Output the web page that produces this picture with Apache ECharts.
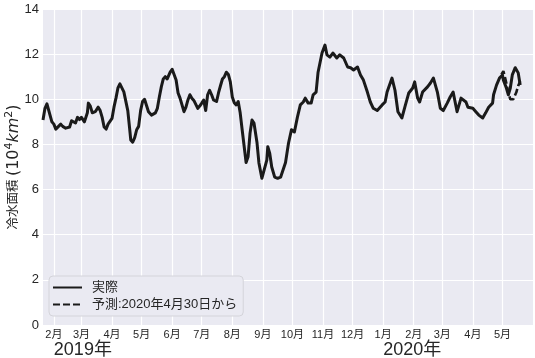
<!DOCTYPE html>
<html>
<head>
<meta charset="utf-8">
<script src="https://cdn.jsdelivr.net/npm/echarts@6/dist/echarts.min.js"></script>
<style>
  html, body { margin: 0; padding: 0; background: #ffffff; }
  #chart { width: 535px; height: 358px; }
</style>
</head>
<body>
<div id="chart"></div>
<script>
// ---- data ----
const actualDates = [
  '2019-01-21','2019-01-23','2019-01-25','2019-01-27','2019-01-30','2019-02-01','2019-02-03','2019-02-05','2019-02-08','2019-02-10',
  '2019-02-13','2019-02-17','2019-02-19','2019-02-21','2019-02-23','2019-02-25','2019-02-27','2019-03-01','2019-03-03','2019-03-04',
  '2019-03-07','2019-03-08','2019-03-10','2019-03-12','2019-03-15','2019-03-18','2019-03-20','2019-03-22','2019-03-24','2019-03-26',
  '2019-03-28','2019-03-30','2019-04-01','2019-04-03','2019-04-05','2019-04-07','2019-04-09','2019-04-11','2019-04-13','2019-04-15',
  '2019-04-17','2019-04-19','2019-04-20','2019-04-22','2019-04-24','2019-04-26','2019-04-28','2019-04-30','2019-05-02','2019-05-04',
  '2019-05-06','2019-05-08','2019-05-11','2019-05-13','2019-05-15','2019-05-17','2019-05-19','2019-05-21','2019-05-23','2019-05-25',
  '2019-05-27','2019-05-28','2019-05-30','2019-06-01','2019-06-03','2019-06-05','2019-06-07','2019-06-09','2019-06-11','2019-06-13',
  '2019-06-15','2019-06-17','2019-06-19','2019-06-21','2019-06-23','2019-06-25','2019-06-27','2019-06-29','2019-07-01','2019-07-03',
  '2019-07-05','2019-07-07','2019-07-09','2019-07-11','2019-07-13','2019-07-16','2019-07-18','2019-07-20','2019-07-22','2019-07-24',
  '2019-07-26','2019-07-28','2019-07-30','2019-08-01','2019-08-03','2019-08-05','2019-08-07','2019-08-09','2019-08-11','2019-08-15',
  '2019-08-17','2019-08-19','2019-08-21','2019-08-23','2019-08-26','2019-08-28','2019-08-31','2019-09-02','2019-09-05','2019-09-06',
  '2019-09-08','2019-09-10','2019-09-13','2019-09-16','2019-09-19','2019-09-21','2019-09-24','2019-09-27','2019-09-30','2019-10-03',
  '2019-10-06','2019-10-09','2019-10-12','2019-10-14','2019-10-17','2019-10-20','2019-10-22','2019-10-25','2019-10-27','2019-10-31',
  '2019-11-03','2019-11-05','2019-11-08','2019-11-11','2019-11-15','2019-11-18','2019-11-22','2019-11-26','2019-11-29','2019-12-02',
  '2019-12-06','2019-12-09','2019-12-12','2019-12-16','2019-12-19','2019-12-22','2019-12-26','2019-12-31','2020-01-03','2020-01-05',
  '2020-01-10','2020-01-13','2020-01-16','2020-01-20','2020-01-23','2020-01-27','2020-01-31','2020-02-02','2020-02-05','2020-02-07',
  '2020-02-10','2020-02-12','2020-02-15','2020-02-18','2020-02-21','2020-02-25','2020-02-28','2020-03-02','2020-03-06','2020-03-09',
  '2020-03-12','2020-03-14','2020-03-16','2020-03-20','2020-03-22','2020-03-25','2020-03-27','2020-04-01','2020-04-04','2020-04-07',
  '2020-04-11','2020-04-14','2020-04-17','2020-04-21','2020-04-22','2020-04-25','2020-04-28','2020-05-01','2020-05-02','2020-05-05',
  '2020-05-07','2020-05-09','2020-05-11','2020-05-14','2020-05-17','2020-05-19'
];
const actualValues = [
  9.08,9.6,9.8,9.8,9.0,8.9,8.68,8.75,8.9,8.8,
  8.72,8.77,9.05,9.1,8.95,9.2,9.1,9.2,9.2,9.0,
  9.4,9.83,9.7,9.4,9.45,9.65,9.5,9.2,8.77,8.68,
  8.9,8.95,9.15,9.65,10.05,10.5,10.68,10.6,10.33,10.3,
  9.5,8.65,8.2,8.1,8.3,8.65,8.8,9.5,9.9,10.0,
  9.97,9.45,9.3,9.26,9.4,9.6,10.1,10.55,10.9,11.0,
  10.9,10.85,11.2,11.33,11.3,10.85,10.28,10.05,9.75,9.45,
  9.65,9.97,10.2,10.05,9.95,9.9,9.6,9.7,9.83,9.97,
  9.5,10.2,10.4,10.2,9.97,9.9,10.28,10.6,10.9,11.0,
  11.2,11.1,10.77,10.1,9.85,9.75,9.9,9.4,8.65,7.2,
  7.45,8.5,9.08,8.95,8.1,7.18,6.5,6.55,7.3,7.9,
  7.6,7.0,6.55,6.5,6.55,6.5,7.2,8.05,8.65,8.55,
  9.2,9.75,9.88,10.05,9.83,9.83,10.2,10.32,11.2,12.05,
  12.4,11.97,11.87,12.05,11.83,11.97,11.83,11.43,11.4,11.3,
  11.43,11.08,10.85,10.32,9.88,9.6,9.5,9.75,9.88,10.32,
  10.94,10.4,9.45,9.17,9.65,10.28,10.5,10.77,10.05,9.88,
  10.32,10.28,10.55,10.72,10.94,10.32,9.6,9.5,9.83,10.1,
  10.32,9.88,9.45,10.05,10.1,9.88,9.65,9.6,9.45,9.3,
  9.17,9.4,9.65,9.83,10.2,10.63,10.94,11.08,10.85,10.5,
  10.2,10.5,11.08,11.4,11.17,10.63
];
const forecastDates = ['2020-04-30','2020-05-02','2020-05-04','2020-05-07','2020-05-09','2020-05-12','2020-05-15','2020-05-17','2020-05-19'];
const forecastValues = [11.1,11.25,10.9,10.3,10.0,10.0,10.3,10.6,10.8];

const monthTicks = ['2019-02-01','2019-03-01','2019-04-01','2019-05-01','2019-06-01','2019-07-01','2019-08-01','2019-09-01',
  '2019-10-01','2019-11-01','2019-12-01','2020-01-01','2020-02-01','2020-03-01','2020-04-01','2020-05-01'];
const monthLabels = ['2月','3月','4月','5月','6月','7月','8月','9月','10月','11月','12月','1月','2月','3月','4月','5月'];
const yearTicks = ['2019-02-01','2020-01-01'];
const yearLabels = ['2019年','2020年'];
const seriesNames = ['実際','予測:2020年4月30日から'];

// ---- build ----
const toTs = s => { const p = s.split('-').map(Number); return Date.UTC(p[0], p[1]-1, p[2]); };
const zip = (d, v) => d.map((x, i) => [toTs(x), v[i]]);
const monthTs = monthTicks.map(toTs);
const yearTs = yearTicks.map(toTs);
const xMin = toTs('2019-01-21');
const xMax = toTs('2020-06-01');
const labelFor = (ticks, labels) => v => {
  let best = -1, bd = Infinity;
  ticks.forEach((t, i) => { const d = Math.abs(t - v); if (d < bd) { bd = d; best = i; } });
  return bd < 86400000 ? labels[best] : '';
};

const FONT = "'Liberation Sans', 'Noto Sans CJK JP', sans-serif";
const MATH = "'DejaVu Sans', sans-serif";
const TXT = '#262626';
const LINE = '#1a1a1a';

const chart = echarts.init(document.getElementById('chart'), null, { renderer: 'canvas' });
chart.setOption({
  animation: false,
  backgroundColor: '#ffffff',
  textStyle: { fontFamily: FONT },
  grid: {
    left: 43, right: 2, top: 9, bottom: 33,
    show: true, backgroundColor: '#EAEAF2', borderWidth: 0,
    containLabel: false, outerBoundsMode: 'none'
  },
  legend: {
    orient: 'vertical',
    left: 49, top: 276,
    data: seriesNames,
    itemWidth: 29, itemHeight: 14, itemGap: 4,
    padding: [5, 6, 5, 3],
    backgroundColor: '#EAEAF2',
    borderColor: '#d4d4da', borderWidth: 1, borderRadius: 4,
    itemStyle: { opacity: 0 },
    textStyle: { fontSize: 13, color: TXT, fontFamily: FONT, padding: [0, 0, 0, 5] }
  },
  xAxis: [{
    type: 'value', min: xMin, max: xMax, scale: true,
    axisLine: { show: false },
    axisTick: { show: false, customValues: monthTs },
    splitLine: { show: true, lineStyle: { color: '#ffffff', width: 1.2 } },
    axisLabel: {
      customValues: monthTs,
      fontSize: 11, color: TXT, margin: 4, fontFamily: FONT,
      formatter: labelFor(monthTs, monthLabels)
    }
  }, {
    type: 'value', min: xMin, max: xMax, scale: true, position: 'bottom', offset: 14,
    axisLine: { show: false },
    axisTick: { show: false, customValues: yearTs },
    splitLine: { show: false },
    axisLabel: {
      customValues: yearTs,
      fontSize: 18, color: TXT, align: 'left', margin: 2, fontFamily: FONT,
      formatter: labelFor(yearTs, yearLabels)
    }
  }],
  yAxis: {
    type: 'value', min: 0, max: 14, interval: 2,
    axisLine: { show: false }, axisTick: { show: false },
    splitLine: { show: true, lineStyle: { color: '#ffffff', width: 1.2 } },
    axisLabel: { fontSize: 13, color: TXT, margin: 4, fontFamily: FONT },
    name: '{a|冷水面積 }{m|(10}{s|4}{i|km}{s|2}{m|)}',
    nameLocation: 'middle', nameGap: 19, nameRotate: 90,
    nameMoveOverlap: false,
    nameTextStyle: {
      color: TXT,
      rich: {
        a: { fontSize: 12.5, color: TXT, fontFamily: FONT, lineHeight: 20 },
        m: { fontSize: 16, color: TXT, fontFamily: MATH, lineHeight: 20 },
        i: { fontSize: 16, color: TXT, fontStyle: 'italic', fontFamily: MATH, lineHeight: 20 },
        s: { fontSize: 11, color: TXT, fontFamily: MATH, lineHeight: 11, verticalAlign: 'top' }
      }
    }
  },
  series: [{
    name: seriesNames[0], type: 'line', xAxisIndex: 0,
    data: zip(actualDates, actualValues),
    showSymbol: false, symbol: 'none', smooth: false,
    lineStyle: { color: LINE, width: 3, join: 'round' },
    itemStyle: { color: LINE }
  }, {
    name: seriesNames[1], type: 'line', xAxisIndex: 0,
    data: zip(forecastDates, forecastValues),
    showSymbol: false, symbol: 'none', smooth: false,
    lineStyle: { color: LINE, width: 2.6, type: [7, 3] },
    itemStyle: { color: LINE }
  }]
});
</script>
</body>
</html>
